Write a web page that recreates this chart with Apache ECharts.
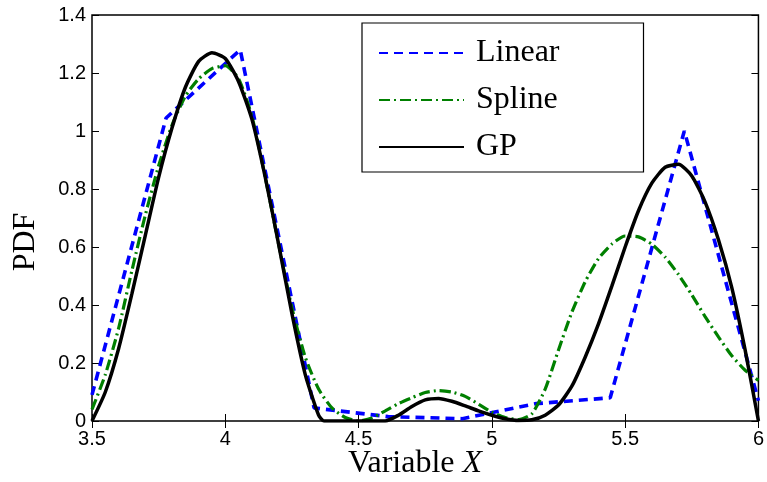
<!DOCTYPE html>
<html>
<head>
<meta charset="utf-8">
<script src="https://cdn.jsdelivr.net/npm/echarts@6/dist/echarts.min.js"></script>
<style>
  html, body { margin: 0; padding: 0; background: #fff; }
  #chart { width: 767px; height: 482px; }
</style>
</head>
<body>
<div id="chart"></div>
<script>
// Interpolated density estimates of X
const linearX = [3.5, 3.778, 4.056, 4.333, 4.611, 4.889, 5.167, 5.444, 5.722, 6.0];
const linearY = [0.09, 1.045, 1.28, 0.045, 0.015, 0.008, 0.06, 0.08, 1.0, 0.07];

const splineX = [3.50, 3.55, 3.60, 3.65, 3.70, 3.75, 3.80, 3.85, 3.90, 3.95, 4.00, 4.05, 4.10, 4.15, 4.20, 4.25, 4.30, 4.35, 4.40, 4.45, 4.50, 4.55, 4.60, 4.65, 4.70, 4.75, 4.80, 4.85, 4.90, 4.95, 5.00, 5.05, 5.10, 5.15, 5.20, 5.25, 5.30, 5.35, 5.40, 5.45, 5.50, 5.55, 5.60, 5.65, 5.70, 5.75, 5.80, 5.85, 5.90, 5.95, 6.00];
const splineY = [0.04, 0.16, 0.32, 0.52, 0.71, 0.88, 1.02, 1.12, 1.18, 1.215, 1.225, 1.18, 1.05, 0.84, 0.61, 0.39, 0.22, 0.11, 0.045, 0.012, 0.0, 0.01, 0.035, 0.06, 0.08, 0.098, 0.105, 0.10, 0.085, 0.058, 0.03, 0.012, 0.005, 0.025, 0.11, 0.245, 0.375, 0.48, 0.56, 0.61, 0.638, 0.635, 0.61, 0.565, 0.505, 0.435, 0.36, 0.29, 0.225, 0.175, 0.14];

const gpX = [3.50, 3.55, 3.60, 3.65, 3.70, 3.75, 3.80, 3.85, 3.90, 3.95, 4.00, 4.05, 4.10, 4.15, 4.20, 4.25, 4.30, 4.35, 4.37, 4.40, 4.50, 4.60, 4.65, 4.70, 4.75, 4.80, 4.85, 4.90, 4.95, 5.00, 5.05, 5.10, 5.15, 5.20, 5.25, 5.30, 5.35, 5.40, 5.45, 5.50, 5.55, 5.60, 5.65, 5.70, 5.75, 5.80, 5.85, 5.90, 5.95, 6.00];
const gpY = [0.0, 0.10, 0.25, 0.44, 0.64, 0.84, 1.01, 1.15, 1.24, 1.27, 1.25, 1.17, 1.04, 0.84, 0.61, 0.37, 0.16, 0.02, 0.0, 0.0, 0.0, 0.0, 0.02, 0.05, 0.073, 0.078, 0.068, 0.052, 0.035, 0.02, 0.008, 0.002, 0.004, 0.02, 0.055, 0.12, 0.22, 0.335, 0.465, 0.60, 0.725, 0.82, 0.875, 0.885, 0.845, 0.755, 0.625, 0.46, 0.245, 0.0];

const xTicks = { min: 3.5, max: 6, step: 0.5 };
const yTicks = { min: 0, max: 1.4, step: 0.2 };

const pairs = (xs, ys) => xs.map((x, i) => [x, ys[i]]);

const serif = '"Liberation Serif", "Times New Roman", serif';
const sans = '"Liberation Sans", Arial, sans-serif';

const chart = echarts.init(document.getElementById('chart'), null, { renderer: 'canvas' });

const baseX = {
  type: 'value', min: xTicks.min, max: xTicks.max, interval: xTicks.step,
  splitLine: { show: false },
  axisLine: { show: false },
  axisTick: { show: true, inside: true, length: 7, lineStyle: { color: '#000', width: 1 } }
};
const baseY = {
  type: 'value', min: yTicks.min, max: yTicks.max, interval: yTicks.step,
  splitLine: { show: false },
  axisLine: { show: false },
  axisTick: { show: true, inside: true, length: 7, lineStyle: { color: '#000', width: 1 } }
};

chart.setOption({
  animation: false,
  backgroundColor: '#fff',
  grid: {
    left: 92, right: 8, top: 15, bottom: 61,
    show: true, borderColor: '#000', borderWidth: 1.5, backgroundColor: 'transparent'
  },
  xAxis: [
    Object.assign({}, baseX, {
      position: 'bottom',
      axisLabel: { color: '#000', fontFamily: sans, fontSize: 20, margin: 8 }
    }),
    Object.assign({}, baseX, { position: 'top', axisLabel: { show: false } })
  ],
  yAxis: [
    Object.assign({}, baseY, {
      position: 'left',
      axisLabel: { color: '#000', fontFamily: sans, fontSize: 20, margin: 6 }
    }),
    Object.assign({}, baseY, { position: 'right', axisLabel: { show: false } })
  ],
  legend: {
    orient: 'vertical',
    left: 362, top: 23,
    padding: [14, 84, 9, 16],
    itemWidth: 85, itemHeight: 14, itemGap: 15,
    backgroundColor: '#fff',
    borderColor: '#000', borderWidth: 1.2,
    itemStyle: { opacity: 0 },
    textStyle: { color: '#000', fontFamily: serif, fontSize: 32, lineHeight: 30, padding: [0, 0, 0, 7] },
    data: ['Linear', 'Spline', 'GP']
  },
  graphic: [
    {
      type: 'text', x: 26, y: 242, rotation: Math.PI / 2,
      style: { text: 'PDF', font: '32px ' + serif, fill: '#000', align: 'center', verticalAlign: 'middle' }
    },
    {
      type: 'text', x: 415, y: 464,
      style: {
        text: '{a|Variable }{b|X}',
        align: 'center', verticalAlign: 'middle',
        rich: {
          a: { font: '32px ' + serif, fill: '#000' },
          b: { font: 'italic 32px ' + serif, fill: '#000' }
        }
      }
    }
  ],
  series: [
    {
      name: 'Linear', type: 'line', data: pairs(linearX, linearY),
      showSymbol: false, symbol: 'none',
      lineStyle: { color: '#0000ff', width: 3.6, type: [9, 6] },
      itemStyle: { color: '#0000ff' }, z: 3
    },
    {
      name: 'Spline', type: 'line', data: pairs(splineX, splineY),
      showSymbol: false, symbol: 'none', smooth: 0.2,
      lineStyle: { color: '#008000', width: 3.2, type: [11, 4, 2, 4] },
      itemStyle: { color: '#008000' }, z: 4
    },
    {
      name: 'GP', type: 'line', data: pairs(gpX, gpY),
      showSymbol: false, symbol: 'none', smooth: 0.2,
      lineStyle: { color: '#000', width: 3.5, type: 'solid' },
      itemStyle: { color: '#000' }, z: 5
    }
  ]
});
</script>
</body>
</html>
